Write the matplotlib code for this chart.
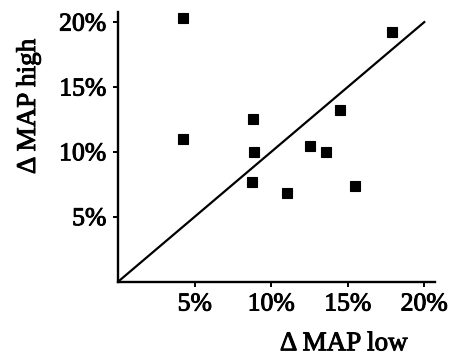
import matplotlib.pyplot as plt
import matplotlib.patheffects as pe

# Change in MAP (%) at low vs. high setting, one point per subject
mapLow = [4.2, 17.9, 4.25, 8.8, 8.85, 8.75, 11.0, 12.55, 13.6, 14.5, 15.5]
mapHigh = [20.3, 19.2, 10.95, 12.55, 9.95, 7.65, 6.85, 10.45, 9.95, 13.2, 7.4]
tickValues = [5, 10, 15, 20]
tickLabels = ["5%", "10%", "15%", "20%"]
identityLine = [0, 20]

plt.rcParams['font.family'] = 'Liberation Serif'

fig = plt.figure(figsize = (4.55, 3.55), dpi = 100)
ax = fig.add_axes([0.26, 0.207, 0.696, 0.76])

# Line of identity and the data points
ax.plot(identityLine, identityLine, color = 'black', linewidth = 1.6)
ax.plot(mapLow, mapHigh, linestyle = 'none', marker = 's', markersize = 7.5,
        color = 'black', markeredgewidth = 0.8, markeredgecolor = 'black')

ax.set_xlim(0, 20.7)
ax.set_ylim(0, 20.8)
ax.set_xticks(tickValues)
ax.set_xticklabels(tickLabels)
ax.set_yticks(tickValues)
ax.set_yticklabels(tickLabels)

for side in ['top', 'right']:
    ax.spines[side].set_visible(False)
for side in ['left', 'bottom']:
    ax.spines[side].set_linewidth(1.7)

ax.tick_params(direction = 'out', length = 3.6, width = 1.4, labelsize = 18.5,
               pad = 5)

ax.set_xlabel("Δ MAP low", fontsize = 19.5, va = 'baseline')
ax.set_ylabel("Δ MAP high", fontsize = 19.5, va = 'baseline')
ax.xaxis.set_label_coords(0.712, -0.255)
ax.yaxis.set_label_coords(-0.263, 0.649)

# Heavier ink on all the text
heavy = [pe.withStroke(linewidth = 0.7, foreground = 'black')]
for label in ax.get_xticklabels() + ax.get_yticklabels():
    label.set_path_effects(heavy)
ax.xaxis.label.set_path_effects(heavy)
ax.yaxis.label.set_path_effects(heavy)

fig.savefig("out.png", dpi = 100)
